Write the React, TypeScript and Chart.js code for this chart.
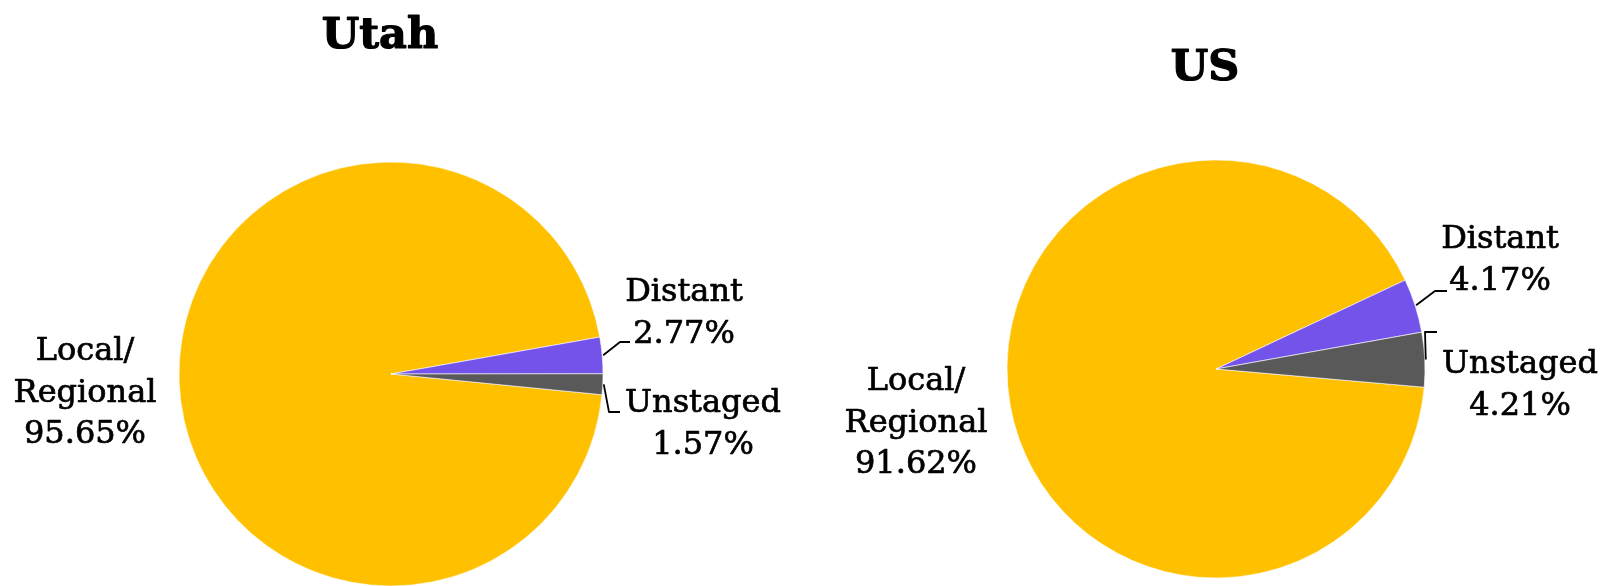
import React, { useEffect, useRef } from "react";
import { Chart, registerables } from "chart.js";

Chart.register(...registerables);

// ---- data ----
const categories = ["Local/Regional", "Distant", "Unstaged"];
const labelLines = [["Local/", "Regional"], ["Distant"], ["Unstaged"]];
const utahValues = [95.65, 2.77, 1.57];
const usValues = [91.62, 4.17, 4.21];
const chartTitles = ["Utah", "US"];
const sliceColors = ["#FFC000", "#7353EA", "#595959"];

// ---- layout (canvas-local coordinates) ----
type LabelPos = { x: number; y: number; leader?: number[] };
const utahLayout = {
  left: 0,
  rotation: 95.6,
  radius: 212,
  padding: { left: 179, right: 197, top: 162, bottom: 0 },
  title: { x: 380, y: 48 },
  labels: [
    { x: 85, y: 360 },
    { x: 684, y: 301, leader: [620, 342, 630, 342] },
    { x: 703, y: 412, leader: [609, 412, 620, 412] },
  ] as LabelPos[],
};
const usLayout = {
  left: 800,
  rotation: 95,
  radius: 209,
  padding: { left: 207, right: 175, top: 160, bottom: 8 },
  title: { x: 405, y: 80 },
  labels: [
    { x: 116, y: 390 },
    { x: 700, y: 248, leader: [635, 291, 647, 291] },
    { x: 720, y: 373, leader: [625, 332, 637, 332] },
  ] as LabelPos[],
};

const LINE_H = 41.5;

const labelPlugin = {
  id: "pieLabels",
  afterDraw(chart: any, _args: any, opts: any) {
    const ctx = chart.ctx as CanvasRenderingContext2D;
    const meta = chart.getDatasetMeta(0);
    const values = chart.data.datasets[0].data as number[];
    ctx.save();
    ctx.fillStyle = "#000";
    ctx.strokeStyle = "#000";
    ctx.lineJoin = "round";
    ctx.textAlign = "center";
    ctx.textBaseline = "alphabetic";
    ctx.font = "bold 43px 'DejaVu Serif'";
    ctx.lineWidth = 1.2;
    ctx.fillText(opts.titleText, opts.title.x, opts.title.y);
    ctx.strokeText(opts.titleText, opts.title.x, opts.title.y);
    ctx.font = "32px 'DejaVu Serif'";
    meta.data.forEach((arc: any, i: number) => {
      const L: LabelPos = opts.labels[i];
      const lines = [...labelLines[i], values[i].toFixed(2) + "%"];
      ctx.lineWidth = 0.7;
      lines.forEach((t, k) => {
        ctx.fillText(t, L.x, L.y + k * LINE_H);
        ctx.strokeText(t, L.x, L.y + k * LINE_H);
      });
      if (L.leader) {
        const p = arc.getProps(["x", "y", "startAngle", "endAngle", "outerRadius"], true);
        const mid = (p.startAngle + p.endAngle) / 2;
        ctx.beginPath();
        ctx.moveTo(p.x + Math.cos(mid) * (p.outerRadius + 1), p.y + Math.sin(mid) * (p.outerRadius + 1));
        ctx.lineTo(L.leader[0], L.leader[1]);
        ctx.lineTo(L.leader[2], L.leader[3]);
        ctx.lineWidth = 1.8;
        ctx.stroke();
      }
    });
    ctx.restore();
  },
};

function PieChart({ values, layout, titleText }: { values: number[]; layout: any; titleText: string }) {
  const ref = useRef<HTMLCanvasElement>(null);
  useEffect(() => {
    if (!ref.current) return;
    const chart = new Chart(ref.current, {
      type: "pie",
      data: {
        labels: categories,
        datasets: [
          {
            data: values,
            backgroundColor: sliceColors,
            borderColor: "#ffffff",
            borderWidth: 0.6,
          },
        ],
      },
      options: {
        responsive: false,
        maintainAspectRatio: false,
        animation: false,
        rotation: layout.rotation,
        radius: layout.radius,
        layout: { padding: layout.padding },
        plugins: {
          legend: { display: false },
          tooltip: { enabled: false },
          title: { display: false },
          pieLabels: { labels: layout.labels, title: layout.title, titleText },
        } as any,
      },
      plugins: [labelPlugin],
    });
    return () => chart.destroy();
  }, []);
  return (
    <canvas
      ref={ref}
      width={800}
      height={586}
      style={{ position: "absolute", left: layout.left, top: 0, width: 800, height: 586 }}
    />
  );
}

export default function App() {
  return (
    <div style={{ position: "absolute", left: 0, top: 0, width: 1600, height: 586, background: "#fff", overflow: "hidden" }}>
      <PieChart values={utahValues} layout={utahLayout} titleText={chartTitles[0]} />
      <PieChart values={usValues} layout={usLayout} titleText={chartTitles[1]} />
    </div>
  );
}
